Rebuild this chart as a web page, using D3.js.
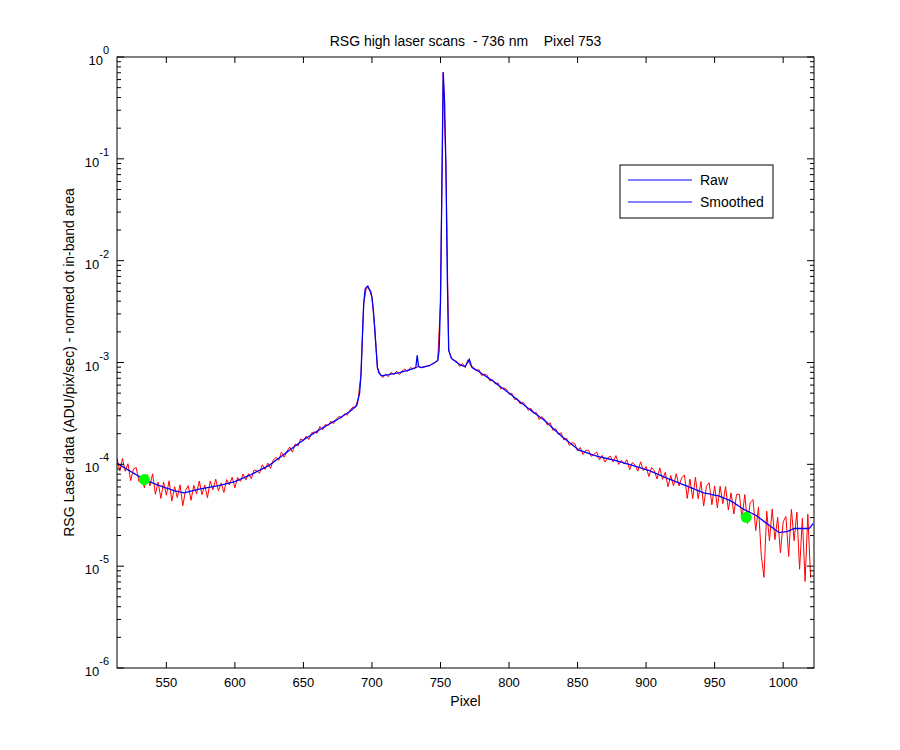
<!DOCTYPE html>
<html><head><meta charset="utf-8">
<script src="https://cdn.jsdelivr.net/npm/d3@7"></script>
<style>body{margin:0;background:#fff}text{font-family:"Liberation Sans",Arial,sans-serif;white-space:pre}</style>
</head><body><svg id="c"></svg>
<script>
// smoothed curve: [pixel, log10 value]
const smoothPts = [[514,-3.99],[524,-4.07],[534,-4.15],[545,-4.21],[556,-4.26],[563,-4.28],[575,-4.24],[588,-4.21],[600,-4.17],[612,-4.10],[625,-4.01],[637,-3.89],[650,-3.76],[663,-3.65],[676,-3.55],[685,-3.47],[689,-3.42],[691,-3.30],[692,-3.12],[693,-2.75],[694,-2.42],[695,-2.28],[696,-2.26],[697,-2.25],[698,-2.28],[699,-2.30],[700,-2.36],[701,-2.48],[702,-2.66],[703,-2.86],[704,-3.05],[705,-3.10],[707,-3.13],[712,-3.12],[720,-3.10],[728,-3.07],[732,-3.05],[733,-2.93],[734,-3.04],[736,-3.05],[742,-3.03],[746,-3.00],[748,-2.98],[749,-2.88],[750,-2.40],[751,-1.30],[752,-0.15],[753,-0.45],[754,-1.10],[755,-2.20],[756,-2.88],[758,-2.96],[764,-3.02],[768,-3.04],[771,-2.97],[773,-3.05],[777,-3.08],[788,-3.18],[800,-3.30],[813,-3.44],[826,-3.57],[838,-3.72],[851,-3.86],[864,-3.92],[877,-3.96],[890,-4.01],[902,-4.06],[916,-4.14],[931,-4.22],[942,-4.28],[953,-4.31],[962,-4.36],[971,-4.44],[980,-4.50],[990,-4.60],[997,-4.67],[1003,-4.66],[1008,-4.63],[1014,-4.63],[1019,-4.63],[1022,-4.58]];
// raw minus smoothed (log10), one value every 2 pixels from 514
const rawStart = 514, rawStep = 2;
const rawDev = [0.05,-0.06,0.08,-0.03,0.06,-0.09,0.04,0.07,-0.05,0.02,-0.08,0.06,-0.04,0.09,-0.1,0.03,-0.12,0.05,-0.07,0.08,-0.11,0.04,-0.06,0.07,-0.13,0.02,0.06,-0.09,0.05,-0.04,0.08,-0.06,0.03,-0.1,0.06,-0.03,0.07,-0.05,0.02,-0.08,0.04,-0.02,0.05,-0.06,
0.03,-0.02,0.04,-0.03,0.02,-0.04,0.03,0.01,-0.03,0.04,-0.02,0.03,-0.04,0.02,0.03,-0.02,0.04,-0.03,0.01,0.03,-0.04,0.02,-0.02,0.03,-0.01,0.02,-0.03,0.02,0.01,-0.02,0.03,-0.02,0.02,-0.01,0.02,-0.02,0.01,0.02,-0.01,0.01,-0.02,0.01,0.02,-0.01,0.01,
0,0,0,0,0,0,0,0,-0.02,0.01,-0.02,0.02,-0.01,0.02,-0.02,0.01,0.02,-0.01,0.02,0,0,0,0,0,0,0,0,0,0,0,0,0,0,0,0,0.01,-0.02,0.02,-0.01,0.02,-0.02,0.01,-0.01,0.02,-0.02,0.01,0.02,-0.02,0.01,-0.01,0.02,-0.02,0.01,0.02,-0.01,0.02,-0.02,0.01,-0.02,0.02,0.01,-0.02,0.02,-0.01,0.02,-0.03,0.02,0.01,-0.02,0.03,-0.02,0.02,-0.01,0.03,-0.02,0.02,-0.03,0.02,0.03,-0.02,0.03,-0.03,0.02,
0.03,-0.02,0.01,0.04,-0.03,0.02,-0.04,0.01,0.03,-0.02,0.05,-0.03,0.02,-0.01,0.04,-0.05,0.03,0.01,-0.04,0.06,-0.02,0.03,-0.06,0.04,0.02,-0.05,0.07,-0.03,0.05,-0.08,0.04,-0.05,0.08,-0.03,0.06,
0.1,-0.12,0.08,-0.1,0.12,-0.08,0.1,-0.13,0.07,0.11,-0.1,0.09,-0.12,0.1,-0.06,0.12,-0.1,0.08,-0.11,0.1,
0.12,-0.1,0.15,-0.12,0.1,0.14,-0.15,0.1,-0.35,-0.55,0.12,-0.15,0.18,-0.1,0.14,-0.2,0.1,0.15,-0.25,0.2,-0.12,0.16,-0.4,0.1,-0.52,0.14,-0.5];
const xTicks = [550,600,650,700,750,800,850,900,950,1000];
const yExps = [-6,-5,-4,-3,-2,-1,0];
const title = "RSG high laser scans  - 736 nm    Pixel 753";
const markers = [[534,-4.15],[973,-4.52]];

const W=900,H=750, L=117,R=814,T=57,B=668;
const svg=d3.select('#c').attr('width',W).attr('height',H);
const x=d3.scaleLinear().domain([514,1022.5]).range([L,R]);
const y=d3.scaleLog().domain([1e-6,1]).range([B,T]);
const smooth=d3.scaleLinear().domain(smoothPts.map(d=>d[0])).range(smoothPts.map(d=>d[1]));
const raw=rawDev.map((d,i)=>{const p=rawStart+i*rawStep;return [p,Math.pow(10,smooth(p)+d)];});
const sm=d3.range(514,1023).map(p=>[p,Math.pow(10,smooth(p))]);

svg.append('rect').attr('x',L).attr('y',T).attr('width',R-L).attr('height',B-T).attr('fill','#fff');
svg.append('clipPath').attr('id','cl').append('rect').attr('x',L).attr('y',T).attr('width',R-L).attr('height',B-T);
const line=d3.line().x(d=>x(d[0])).y(d=>y(d[1]));
const g=svg.append('g').attr('clip-path','url(#cl)');
g.append('path').datum(raw).attr('d',line).attr('fill','none').attr('stroke','#f00').attr('stroke-width',1);
g.append('path').datum(sm).attr('d',line).attr('fill','none').attr('stroke','#00f').attr('stroke-width',1.3);
g.selectAll('circle').data(markers).join('circle').attr('cx',d=>x(d[0])).attr('cy',d=>y(Math.pow(10,d[1]))).attr('r',5.5).attr('fill','#0f0');

// axes box and ticks
const ax=svg.append('g').attr('stroke','#000').attr('fill','none');
ax.append('rect').attr('x',L).attr('y',T).attr('width',R-L).attr('height',B-T).attr('stroke-width',1);
xTicks.forEach(t=>{ax.append('line').attr('x1',x(t)).attr('x2',x(t)).attr('y1',B).attr('y2',B-6);ax.append('line').attr('x1',x(t)).attr('x2',x(t)).attr('y1',T).attr('y2',T+6);});
yExps.forEach(e=>{
  ax.append('line').attr('x1',L).attr('x2',L+7).attr('y1',y(Math.pow(10,e))).attr('y2',y(Math.pow(10,e)));
  ax.append('line').attr('x1',R).attr('x2',R-7).attr('y1',y(Math.pow(10,e))).attr('y2',y(Math.pow(10,e)));
  if(e<0) for(let k=2;k<10;k++){const v=k*Math.pow(10,e);
    ax.append('line').attr('x1',L).attr('x2',L+4).attr('y1',y(v)).attr('y2',y(v));
    ax.append('line').attr('x1',R).attr('x2',R-4).attr('y1',y(v)).attr('y2',y(v));}
});
svg.selectAll('.xt').data(xTicks).join('text').attr('x',d=>x(d)).attr('y',B+19).attr('text-anchor','middle').attr('font-size',13).text(d=>d);
yExps.forEach(e=>{
  const t=svg.append('text').attr('x',L-8).attr('y',y(Math.pow(10,e))+8).attr('text-anchor','end').attr('font-size',13);
  t.append('tspan').text('10');
  t.append('tspan').attr('dy',-11).attr('font-size',11).text(e);
});
svg.append('text').attr('x',(L+R)/2).attr('y',46).attr('text-anchor','middle').attr('font-size',14).text(title);
svg.append('text').attr('x',(L+R)/2).attr('y',706).attr('text-anchor','middle').attr('font-size',14).text('Pixel');
svg.append('text').attr('transform','translate(74,'+((T+B)/2)+') rotate(-90)').attr('text-anchor','middle').attr('font-size',14).text('RSG Laser data (ADU/pix/sec) - normed ot in-band area');

// legend
const lg=svg.append('g').attr('transform','translate(620,165)');
lg.append('rect').attr('width',153).attr('height',53).attr('fill','#fff').attr('stroke','#000');
[['Raw',15],['Smoothed',37]].forEach(([n,yy])=>{
  lg.append('line').attr('x1',8).attr('x2',72).attr('y1',yy).attr('y2',yy).attr('stroke','#00f');
  lg.append('text').attr('x',80).attr('y',yy+5).attr('font-size',14).text(n);
});
</script></body></html>
